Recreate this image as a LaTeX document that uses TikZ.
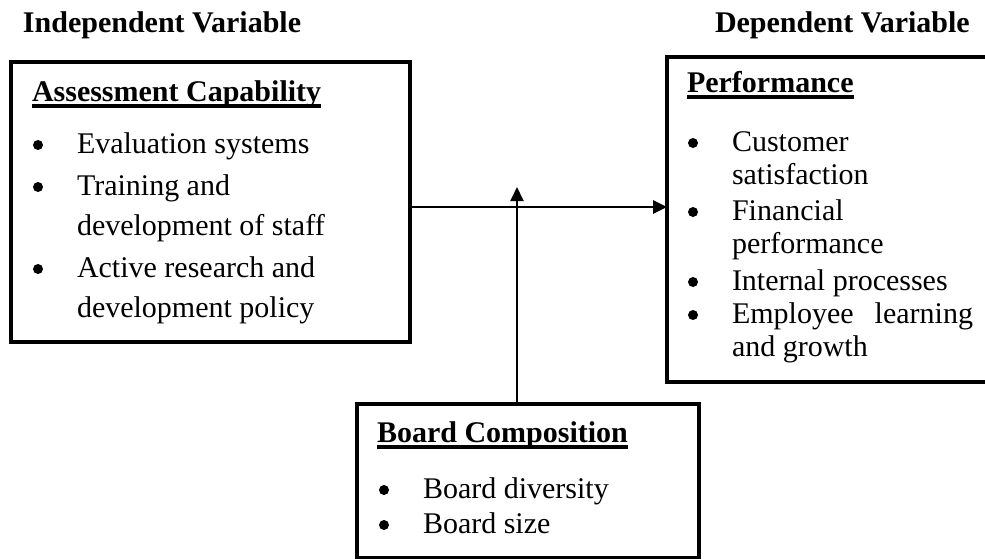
\documentclass[tikz,border=0pt]{standalone}
\usepackage{fontspec}
\setmainfont{Liberation Serif}
\usetikzlibrary{arrows.meta}

% underlined heading with a rule just below the baseline
\newcommand\hd[1]{\setbox0\hbox{\bfseries #1}\rlap{\vrule height -2.5pt depth 6.5pt width \wd0}\box0}
% list lines, indented past the bullet column
\newlength\bw
\newcommand\itm[1]{\hbox{\hspace*{\bw}#1}}

\tikzset{
  box/.style={draw=black, line width=4pt, inner sep=0pt, outer sep=0pt, anchor=north west},
  txt/.style={inner sep=0pt, outer sep=0pt, anchor=base west, font=\fontsize{30pt}{36pt}\selectfont},
  arr/.style={draw=black, -{Triangle[length=14pt,width=13pt]}},
  dot/.style={fill=black},
}

\begin{document}
\begin{tikzpicture}[x=1pt,y=-1pt]
  \fill[white] (0,0) rectangle (985,558);
  \clip (0,0) rectangle (985,558);

  % column headings
  \node[txt] (indep) at (23,32) {\bfseries Independent Variable};
  \node[txt] (dep) at (715,32) {\bfseries Dependent Variable};

  % boxes
  \node[box, minimum width=399pt, minimum height=280pt] (ac) at (11,62) {};
  \node[box, minimum width=333pt, minimum height=325pt] (perf) at (667,57) {};
  \node[box, minimum width=342pt, minimum height=154pt] (bc) at (357,404) {};

  % Assessment Capability
  \node[txt] (actitle) at (32,101) {\hd{Assessment Capability}};
  \node[txt] (aclist) at (32,153) {\setlength\bw{45pt}\vtop{\baselineskip=40pt
      \itm{Evaluation systems}\kern2pt
      \itm{Training and}
      \itm{development of staff}\kern2pt
      \itm{Active research and}
      \itm{development policy}}};

  % Performance
  \node[txt] (perftitle) at (687,92) {\hd{Performance}};
  \node[txt] (perflist) at (687,151) {\setlength\bw{45pt}\vtop{\baselineskip=33pt
      \itm{Customer}
      \itm{satisfaction}\kern3.5pt
      \itm{Financial}
      \itm{performance}\kern3.5pt
      \itm{Internal processes}\kern0pt
      \itm{\makebox[241pt][s]{Employee learning}}
      \itm{and growth}}};

  % Board Composition
  \node[txt] (bctitle) at (377,442) {\hd{Board Composition}};
  \node[txt] (bclist) at (378,498) {\setlength\bw{45pt}\vtop{\baselineskip=35pt
      \itm{Board diversity}
      \itm{Board size}}};

  % bullets
  \foreach \bx/\by in {38/145, 38/187, 38/269,
                       693/143, 693/212, 693/282, 693/315,
                       384/490, 384/525}
    \fill[dot] (\bx,\by) circle (5pt);

  % connectors
  \coordinate (hline) at (517,207);
  \coordinate (tip) at (517,187);
  \draw[arr, line width=2.7pt] (ac.east |- hline) -- (perf.west |- hline);
  \draw[arr, line width=2pt] (bc.north -| tip) -- (tip);
\end{tikzpicture}
\end{document}
